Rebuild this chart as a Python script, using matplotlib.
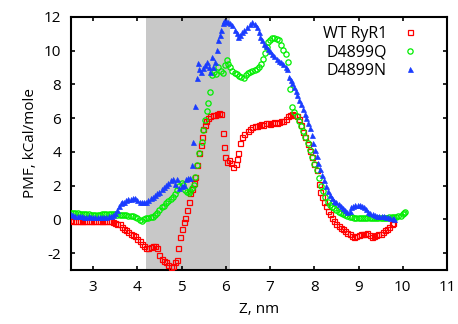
import matplotlib
matplotlib.use("Agg")
import matplotlib.pyplot as plt

plt.rcParams['font.family'] = ['Open Sans', 'DejaVu Sans']

# ---- data ----
wt_z = [2.50, 2.55, 2.60, 2.65, 2.70, 2.75, 2.80, 2.85, 2.90, 2.95, 3.00, 3.05, 3.10, 3.15,
        3.20, 3.25, 3.30, 3.35, 3.40, 3.45, 3.50, 3.55, 3.60, 3.65, 3.70, 3.75, 3.80, 3.85,
        3.90, 3.95, 4.00, 4.05, 4.10, 4.15, 4.20, 4.25, 4.30, 4.35, 4.40, 4.45, 4.50, 4.55,
        4.60, 4.65, 4.70, 4.75, 4.80, 4.85, 4.90, 4.92, 4.97, 5.01, 5.05, 5.08, 5.12, 5.16,
        5.20, 5.23, 5.27, 5.31, 5.35, 5.40, 5.43, 5.46, 5.49, 5.52, 5.56, 5.60, 5.65, 5.70,
        5.75, 5.80, 5.85, 5.90, 5.93, 5.96, 5.99, 6.03, 6.07, 6.12, 6.17, 6.22, 6.26, 6.28,
        6.31, 6.36, 6.42, 6.50, 6.55, 6.60, 6.65, 6.70, 6.75, 6.80, 6.85, 6.90, 6.95, 7.00,
        7.05, 7.10, 7.15, 7.20, 7.25, 7.30, 7.35, 7.40, 7.45, 7.50, 7.55, 7.60, 7.65, 7.70,
        7.75, 7.80, 7.85, 7.90, 7.95, 8.00, 8.05, 8.10, 8.14, 8.18, 8.22, 8.26, 8.30, 8.35,
        8.40, 8.45, 8.50, 8.55, 8.60, 8.65, 8.70, 8.75, 8.80, 8.85, 8.90, 8.95, 9.00, 9.05,
        9.10, 9.15, 9.20, 9.25, 9.30, 9.35, 9.40, 9.45, 9.50, 9.55, 9.60, 9.65, 9.70, 9.75,
        9.78]
wt_pmf = [-0.05, -0.08, -0.10, -0.08, -0.12, -0.10, -0.08, -0.10, -0.12, -0.10, -0.08, -0.10,
          -0.12, -0.10, -0.08, -0.12, -0.10, -0.12, -0.10, -0.15, -0.20, -0.25, -0.30, -0.45,
          -0.55, -0.65, -0.75, -0.85, -0.95, -1.02, -1.15, -1.30, -1.45, -1.60, -1.70, -1.72,
          -1.65, -1.60, -1.60, -1.70, -2.10, -2.35, -2.45, -2.55, -2.70, -2.80, -2.75, -2.55,
          -2.40, -1.70, -1.05, -0.55, -0.15, 0.10, 0.55, 1.05, 1.55, 1.80, 2.15, 2.50, 3.20,
          3.90, 4.40, 4.90, 5.35, 5.60, 5.85, 6.00, 6.10, 6.20, 6.20, 6.25, 6.30, 6.25, 5.10,
          4.30, 3.70, 3.40, 3.50, 3.35, 3.10, 3.30, 3.60, 3.90, 4.50, 4.90, 5.05, 5.25, 5.35,
          5.50, 5.55, 5.55, 5.60, 5.65, 5.60, 5.70, 5.70, 5.65, 5.70, 5.75, 5.70, 5.75, 5.80,
          5.85, 5.95, 6.10, 6.20, 6.25, 6.20, 6.10, 5.95, 5.60, 5.20, 4.85, 4.45, 4.05, 3.70,
          3.30, 2.90, 2.10, 1.60, 1.30, 1.00, 0.80, 0.50, 0.30, 0.10, -0.10, -0.25, -0.40,
          -0.50, -0.60, -0.70, -0.80, -0.90, -1.00, -1.05, -1.00, -0.95, -0.90, -0.85, -0.85,
          -0.80, -0.95, -1.05, -1.00, -0.95, -0.90, -0.85, -0.75, -0.65, -0.55, -0.45, -0.30,
          -0.20]

q_z = [2.50, 2.55, 2.60, 2.65, 2.70, 2.75, 2.80, 2.85, 2.90, 2.95, 3.00, 3.05, 3.10, 3.15,
       3.20, 3.25, 3.30, 3.35, 3.40, 3.45, 3.50, 3.55, 3.60, 3.65, 3.70, 3.75, 3.80, 3.85,
       3.90, 3.95, 4.00, 4.05, 4.10, 4.15, 4.20, 4.25, 4.30, 4.35, 4.40, 4.45, 4.50, 4.55,
       4.60, 4.65, 4.70, 4.75, 4.80, 4.85, 4.90, 4.95, 5.00, 5.04, 5.08, 5.12, 5.16, 5.20,
       5.24, 5.27, 5.30, 5.35, 5.40, 5.46, 5.49, 5.52, 5.57, 5.60, 5.64, 5.69, 5.73, 5.78,
       5.83, 5.88, 5.93, 5.98, 6.03, 6.06, 6.10, 6.15, 6.20, 6.25, 6.30, 6.35, 6.40, 6.45,
       6.50, 6.55, 6.60, 6.65, 6.70, 6.75, 6.80, 6.85, 6.89, 6.93, 6.96, 7.00, 7.05, 7.10,
       7.15, 7.20, 7.25, 7.30, 7.35, 7.40, 7.45, 7.50, 7.55, 7.60, 7.65, 7.70, 7.75, 7.80,
       7.85, 7.90, 7.95, 8.00, 8.05, 8.10, 8.15, 8.20, 8.25, 8.30, 8.35, 8.40, 8.45, 8.50,
       8.55, 8.60, 8.65, 8.70, 8.75, 8.80, 8.85, 8.90, 8.95, 9.00, 9.05, 9.10, 9.15, 9.20,
       9.25, 9.30, 9.35, 9.40, 9.45, 9.50, 9.55, 9.60, 9.65, 9.70, 9.75, 9.80, 9.85, 9.90,
       9.95, 10.00, 10.03, 10.06]
q_pmf = [0.40, 0.38, 0.35, 0.35, 0.33, 0.32, 0.30, 0.30, 0.30, 0.28, 0.28, 0.27, 0.28, 0.28,
         0.30, 0.30, 0.30, 0.32, 0.32, 0.32, 0.30, 0.28, 0.27, 0.25, 0.25, 0.25, 0.22, 0.22,
         0.20, 0.15, 0.05, -0.05, -0.08, 0.00, 0.05, 0.10, 0.12, 0.15, 0.25, 0.40, 0.55, 0.70,
         0.80, 0.95, 1.10, 1.20, 1.30, 1.50, 1.75, 1.95, 2.15, 2.05, 1.75, 1.60, 1.55, 1.65,
         1.85, 2.05, 2.50, 3.20, 3.90, 4.60, 5.30, 5.90, 6.40, 6.90, 7.55, 8.55, 8.75, 8.60,
         9.05, 8.80, 8.70, 9.15, 9.45, 9.20, 9.05, 8.80, 8.70, 8.60, 8.50, 8.45, 8.40, 8.55,
         8.70, 8.75, 8.80, 8.85, 8.90, 9.05, 9.20, 9.50, 9.85, 10.20, 10.50, 10.65, 10.75,
         10.75, 10.70, 10.60, 10.35, 10.05, 9.80, 9.30, 7.70, 6.65, 6.35, 6.10, 5.85, 5.55,
         5.25, 4.90, 4.50, 4.10, 3.70, 3.30, 2.90, 2.45, 2.00, 1.65, 1.35, 1.05, 0.85, 0.75,
         0.65, 0.55, 0.45, 0.38, 0.32, 0.25, 0.18, 0.15, 0.12, 0.10, 0.10, 0.10, 0.10, 0.10,
         0.10, 0.08, 0.08, 0.10, 0.10, 0.10, 0.10, 0.10, 0.08, 0.10, 0.10, 0.12, 0.12, 0.15,
         0.15, 0.18, 0.22, 0.30, 0.40, 0.45]

n_z = [2.50, 2.55, 2.60, 2.65, 2.70, 2.75, 2.80, 2.85, 2.90, 2.95, 3.00, 3.05, 3.10, 3.15,
       3.20, 3.25, 3.30, 3.35, 3.40, 3.45, 3.50, 3.54, 3.58, 3.62, 3.66, 3.70, 3.75, 3.80,
       3.85, 3.90, 3.95, 4.00, 4.05, 4.10, 4.15, 4.20, 4.25, 4.30, 4.35, 4.40, 4.45, 4.50,
       4.55, 4.60, 4.65, 4.70, 4.75, 4.80, 4.85, 4.90, 4.95, 5.00, 5.05, 5.10, 5.15, 5.20,
       5.24, 5.26, 5.30, 5.34, 5.37, 5.40, 5.44, 5.48, 5.53, 5.57, 5.61, 5.65, 5.69, 5.72,
       5.76, 5.80, 5.83, 5.86, 5.89, 5.93, 5.97, 6.01, 6.05, 6.10, 6.15, 6.20, 6.25, 6.28,
       6.32, 6.37, 6.42, 6.48, 6.54, 6.60, 6.65, 6.70, 6.74, 6.78, 6.82, 6.86, 6.90, 6.95,
       7.00, 7.05, 7.10, 7.15, 7.20, 7.25, 7.30, 7.35, 7.39, 7.43, 7.47, 7.50, 7.54, 7.58,
       7.62, 7.66, 7.70, 7.74, 7.78, 7.82, 7.86, 7.90, 7.94, 7.98, 8.02, 8.05, 8.09, 8.13,
       8.18, 8.22, 8.26, 8.30, 8.35, 8.40, 8.45, 8.50, 8.55, 8.60, 8.65, 8.70, 8.75, 8.80,
       8.84, 8.88, 8.93, 8.98, 9.03, 9.08, 9.13, 9.18, 9.22, 9.27, 9.32, 9.37, 9.42, 9.47,
       9.52, 9.57, 9.62, 9.67, 9.72, 9.77, 9.80]
n_pmf = [0.30, 0.25, 0.22, 0.20, 0.18, 0.18, 0.15, 0.15, 0.17, 0.15, 0.12, 0.12, 0.15, 0.15,
         0.13, 0.12, 0.15, 0.17, 0.20, 0.25, 0.40, 0.55, 0.80, 0.95, 1.00, 1.05, 1.15, 1.20,
         1.22, 1.25, 1.25, 1.15, 1.05, 1.05, 1.00, 1.05, 1.15, 1.25, 1.35, 1.45, 1.55, 1.60,
         1.80, 1.90, 2.05, 2.15, 2.35, 2.40, 2.10, 2.40, 1.85, 2.00, 2.05, 2.40, 2.45, 2.45,
         3.20, 4.60, 6.70, 8.40, 9.25, 8.90, 8.75, 8.95, 9.15, 9.35, 9.05, 8.75, 9.60, 9.00,
         9.30, 10.05, 10.65, 10.95, 11.25, 11.65, 11.75, 11.75, 11.70, 11.65, 11.50, 11.25,
         11.05, 10.80, 10.90, 11.10, 11.25, 11.40, 11.55, 11.70, 11.55, 11.40, 11.10, 10.80,
         10.60, 10.40, 10.25, 10.10, 9.95, 9.80, 9.65, 9.50, 9.40, 9.30, 9.20, 9.05, 8.90,
         8.45, 8.25, 8.05, 7.85, 7.60, 7.35, 7.10, 6.85, 6.55, 6.25, 6.00, 5.70, 5.40, 5.00,
         4.55, 4.10, 3.75, 3.35, 3.00, 2.65, 2.30, 2.00, 1.70, 1.45, 1.25, 1.10, 1.00, 0.90,
         0.80, 0.65, 0.55, 0.45, 0.50, 0.70, 0.80, 0.85, 0.85, 0.85, 0.80, 0.75, 0.60, 0.45,
         0.40, 0.30, 0.25, 0.22, 0.20, 0.20, 0.18, 0.15, 0.12, 0.10, 0.05, 0.00]

labels = ["WT RyR1", "D4899Q", "D4899N"]
shade_range = (4.2, 6.1)
x_ticks = [3, 4, 5, 6, 7, 8, 9, 10, 11]
y_ticks = [-2, 0, 2, 4, 6, 8, 10, 12]

# ---- figure ----
fig = plt.figure(figsize=(4.58, 3.24), dpi=100)
ax = fig.add_axes([0.155, 0.167, 0.821, 0.781])

ax.axvspan(shade_range[0], shade_range[1], color='#c8c8c8', lw=0, zorder=0)

ax.plot(wt_z, wt_pmf, ls='none', marker='s', ms=3.6, mfc='none', mec='#ff0000',
        mew=0.9, label=labels[0], zorder=3)
ax.plot(q_z, q_pmf, ls='none', marker='o', ms=3.8, mfc='none', mec='#00ee00',
        mew=0.9, label=labels[1], zorder=3)
ax.plot(n_z, n_pmf, ls='none', marker='^', ms=3.6, mfc='#1a3cff', mec='#1a3cff',
        mew=0.5, label=labels[2], zorder=3)

ax.set_xlim(2.5, 11)
ax.set_ylim(-3, 12)
ax.set_xticks(x_ticks)
ax.set_yticks(y_ticks)
ax.set_yticklabels([str(v) for v in y_ticks])

for s in ax.spines.values():
    s.set_linewidth(1.5)
ax.tick_params(direction='in', length=3, width=1.2, top=True, right=True,
               labelsize=11, pad=7)

ax.set_xlabel("Z, nm", fontsize=11, labelpad=5)
ax.set_ylabel("PMF, kCal/mole", fontsize=11, labelpad=4)

leg = ax.legend(loc='upper right', frameon=False, markerfirst=False, fontsize=11.5,
                handlelength=1.0, handletextpad=0.95, labelspacing=0.15,
                borderaxespad=0.0, borderpad=0.4, bbox_to_anchor=(0.94, 0.99))

fig.savefig("out.png", dpi=100)
